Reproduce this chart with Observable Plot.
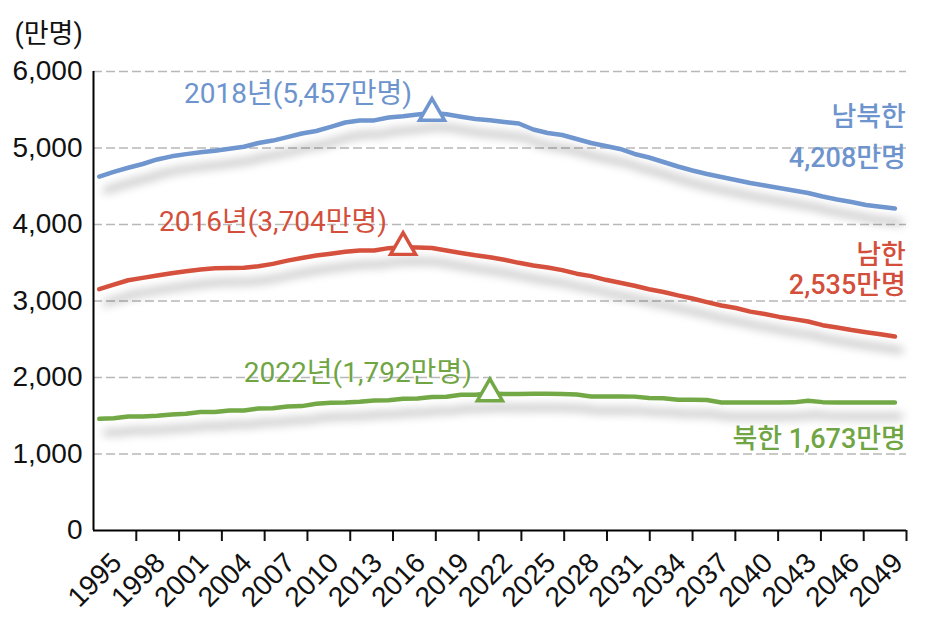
<!DOCTYPE html>
<html><head><meta charset="utf-8">
<script src="https://cdn.jsdelivr.net/npm/d3@7"></script>
<script src="https://cdn.jsdelivr.net/npm/@observablehq/plot@0.6"></script>
<style>
html,body{margin:0;padding:0;background:#fff;}
#chart{width:945px;height:626px;}
</style></head><body><div id="chart"></div>
<script>
// ---- data ----
const years = [1995,1996,1997,1998,1999,2000,2001,2002,2003,2004,2005,2006,2007,2008,2009,2010,2011,2012,2013,2014,2015,2016,2017,2018,2019,2020,2021,2022,2023,2024,2025,2026,2027,2028,2029,2030,2031,2032,2033,2034,2035,2036,2037,2038,2039,2040,2041,2042,2043,2044,2045,2046,2047,2048,2049,2050];
const total = [4627,4689,4742,4791,4850,4891,4920,4945,4965,4990,5017,5065,5097,5142,5190,5222,5277,5333,5359,5361,5399,5414,5438,5457,5442,5409,5379,5362,5340,5320,5242,5196,5170,5118,5065,5026,4987,4922,4876,4817,4758,4706,4660,4621,4582,4542,4510,4477,4444,4412,4366,4327,4294,4255,4232,4208];
const south = [3154,3213,3271,3302,3333,3362,3388,3412,3429,3431,3434,3454,3485,3528,3562,3595,3618,3643,3660,3660,3691,3704,3700,3693,3660,3627,3597,3573,3540,3499,3464,3438,3404,3357,3325,3277,3239,3200,3154,3118,3073,3033,2986,2941,2908,2861,2830,2792,2763,2732,2684,2654,2620,2592,2566,2535];
const north = [1460,1466,1490,1490,1499,1516,1525,1548,1549,1568,1568,1595,1597,1621,1626,1656,1669,1673,1682,1699,1702,1721,1727,1744,1748,1774,1774,1792,1783,1785,1786,1786,1785,1778,1751,1751,1751,1750,1731,1729,1708,1708,1706,1673,1674,1673,1672,1673,1675,1695,1678,1673,1672,1673,1673,1673];
const seriesNames = ["남북한", "남한", "북한"];
const seriesColors = ["#6f96cf", "#d6513d", "#72a845"];
const textColors = ["#6d94cd", "#d34f3b", "#6fa542"];
const peakYears = [2018, 2016, 2022];
const peakValues = [5457, 3704, 1792];
const peakLabels = ["2018년(5,457만명)", "2016년(3,704만명)", "2022년(1,792만명)"];
const endValueLabels = ["4,208만명", "2,535만명", "1,673만명"];
const yTicks = [0, 1000, 2000, 3000, 4000, 5000, 6000];
const xLabelYears = [1995,1998,2001,2004,2007,2010,2013,2016,2019,2022,2025,2028,2031,2034,2037,2040,2043,2046,2049];
const xDomain = [1994.6, 2050.8];
const unitLabel = "(만명)";

// ---- build ----
const seriesValues = [total, south, north];
const FONT_NUM = "'Liberation Sans', Arial, sans-serif";
const FONT_KR = "Roboto, 'Noto Sans CJK KR', sans-serif";
const tickBounds = d3.range(1, 20).map(k => xDomain[0] + k * (xDomain[1] - xDomain[0]) / 19);
const lastYear = years[years.length - 1];

const lineMarks = seriesValues.map((vals, s) =>
  Plot.lineY(years.map((yr, i) => ({year: yr, value: vals[i]})),
    {x: "year", y: "value", stroke: seriesColors[s], strokeWidth: 4.5, curve: "linear"}));

const peaks = peakYears.map((yr, s) => ({year: yr, value: peakValues[s], label: peakLabels[s], s}));
const annDx = [-134, -130, -132];
const annDy = [-19, -25, -20];
const annMarks = peaks.map((p, s) =>
  Plot.text([p], {x: "year", y: "value", text: "label", fill: textColors[s], fontSize: 28,
    fontFamily: FONT_KR, fontWeight: 400, textAnchor: "middle", dx: annDx[s], dy: annDy[s]}));

const ends = seriesValues.map((vals, s) => ({year: lastYear, value: vals[vals.length - 1], s}));
const endOpts = (s, dy) => ({x: "year", y: "value", fill: textColors[s], fontSize: 27, fontWeight: 500, fontFamily: FONT_KR, textAnchor: "end", dx: 11, dy});
const endMarks = [
  Plot.text([ends[0]], {...endOpts(0, -91), text: () => seriesNames[0]}),
  Plot.text([ends[0]], {...endOpts(0, -50), text: () => endValueLabels[0]}),
  Plot.text([ends[1]], {...endOpts(1, -81), text: () => seriesNames[1]}),
  Plot.text([ends[1]], {...endOpts(1, -51), text: () => endValueLabels[1]}),
  Plot.text([ends[2]], {...endOpts(2, 37), text: () => seriesNames[2] + " " + endValueLabels[2]})
];

const chart = Plot.plot({
  width: 945, height: 626,
  marginLeft: 93, marginRight: 39, marginTop: 71, marginBottom: 96,
  x: {domain: xDomain},
  y: {domain: [0, 6000]},
  style: {fontFamily: FONT_NUM, background: "#fff", overflow: "visible", color: "#111"},
  marks: [
    Plot.ruleY(yTicks.filter(d => d > 0), {stroke: "#b8b8b8", strokeWidth: 1.3, strokeDasharray: "9,4"}),
    Plot.axisY({ticks: yTicks, tickSize: 0, tickPadding: 11, tickFormat: d3.format(","), fontSize: 28, fontFamily: FONT_NUM, label: null}),
    Plot.axisX({ticks: tickBounds, tickSize: 11, tickFormat: () => "", label: null, strokeWidth: 2}),
    Plot.text(xLabelYears, {x: d => d, frameAnchor: "bottom", text: d => String(d), rotate: -45, textAnchor: "end", dx: 24, dy: 34, fontSize: 28, fontFamily: FONT_NUM, fill: "#111"}),
    Plot.ruleY([0], {stroke: "#000", strokeWidth: 2}),
    Plot.ruleX([xDomain[0]], {stroke: "#000", strokeWidth: 2}),
    Plot.text([unitLabel], {frameAnchor: "top-left", text: d => d, textAnchor: "start", dx: -79, dy: -48, fontSize: 27, fontFamily: FONT_KR, fill: "#111"}),
    ...lineMarks,
    ...peaks.map((p, s) => Plot.dot([p], {x: "year", y: "value", symbol: "triangle", r: 9.3, fill: "white", stroke: seriesColors[s], strokeWidth: 3.5})),
    ...annMarks,
    ...endMarks
  ]
});
document.getElementById("chart").appendChild(chart);
d3.select(chart).selectAll('g[aria-label="line"] path')
  .style("filter", "drop-shadow(6px 14px 5px rgba(0,0,0,0.33))");
</script>
</body></html>
